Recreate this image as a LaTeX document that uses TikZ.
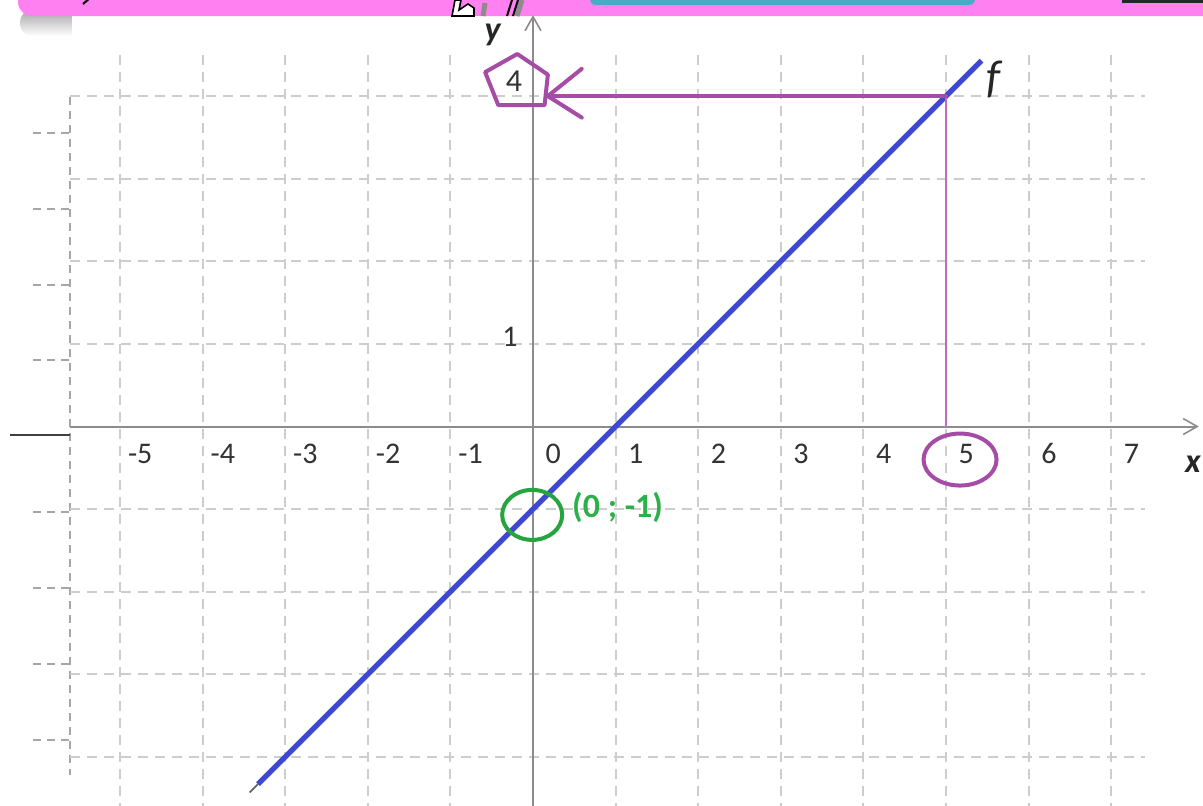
\documentclass[tikz,border=0pt]{standalone}
\usepackage{fontspec}
\setmainfont{Carlito}
\usetikzlibrary{arrows.meta,shapes.geometric}
\definecolor{gridgray}{RGB}{205,205,205}
\definecolor{edgegray}{RGB}{165,165,172}
\definecolor{axisgray}{RGB}{140,140,140}
\definecolor{fblue}{RGB}{62,72,208}
\definecolor{mypurple}{RGB}{166,76,166}
\definecolor{lightpurple}{RGB}{190,110,190}
\definecolor{mygreen}{RGB}{38,164,62}
\definecolor{textgreen}{RGB}{44,176,72}
\definecolor{barpink}{RGB}{255,128,240}
\definecolor{barteal}{RGB}{72,172,196}
\tikzset{
  px/.style={x=0.5pt,y=-0.5pt},
  gridline/.style={draw=gridgray,line width=1pt,dash pattern=on 5pt off 3.5pt},
  edgeline/.style={draw=edgegray,line width=1pt,dash pattern=on 4pt off 3pt},
  axisline/.style={draw=axisgray,line width=1pt},
  tick/.style={font=\fontsize{15}{17}\selectfont,text=black!80,inner sep=0pt},
  penmark/.style={draw=mypurple,line width=2pt,line cap=round,line join=round},
  greenmark/.style={draw=mygreen,line width=2pt},
}
\begin{document}
\begin{tikzpicture}[px]
\useasboundingbox (0,0) rectangle (1203,805);
\fill[white] (0,0) rectangle (1203,805);
% shadow of the top bar
\shade[top color=black!35,bottom color=white,rounded corners=6pt] (20,10) rectangle (90,36);
\fill[white] (72,15) rectangle (1203,805);
% top bar
\fill[barpink,rounded corners=7pt] (18,-20) rectangle (1220,16);
\fill[barteal,rounded corners=3pt] (590,-10) rectangle (975,5);
\fill[black!85] (1122,-2) rectangle (1210,2.5);
\draw[black,line width=1pt] (83,4) -- (90,-2);
\draw[black!45,line width=2.5pt] (483,16) -- (485,3);
\draw[black!45,line width=2.5pt] (517,16) -- (522,0);
\fill[white,draw=black,line width=0.8pt] (452,16) -- (455,0) -- (461,0) -- (459,10) -- (468,4) -- (474,8) -- (474,16) -- cycle;
\draw[black,line width=1pt] (507,16) -- (512,0);
\draw[black,line width=1pt] (513,16) -- (518,0);
% left edge ticks
\foreach \yy in {133,209,285,360,512,588,664,740}
  \draw[edgeline] (33,\yy) -- (70,\yy);
\draw[edgeline] (70,97) -- (70,775);
\draw[black!75,line width=1pt] (10,435) -- (70,435);
% math coordinate scope
\begin{scope}[shift={(533,426.5)},x=41.3pt,y=41.3pt]
  \foreach \k in {-5,...,7}
    \draw[gridline] (\k,4.5) -- (\k,-4.6);
  \foreach \k in {-4,-3,-2,-1,1,2,3,4}
    \draw[gridline] (-5.6,\k) -- (7.41,\k);
  \coordinate (xstart) at (-5.6,0);
  \coordinate (xend) at (8.06,0);
  \coordinate (ystart) at (0,-4.6);
  \coordinate (yend) at (0,4.98);
  \draw[axisline,-{Straight Barb[length=7pt,width=8pt,line width=0.8pt]}] (xstart) -- (xend);
  \draw[axisline,-{Straight Barb[length=7pt,width=8pt,line width=0.8pt]}] (ystart) -- (yend);
  % tick labels
  \foreach \k in {-5,...,7}
    \node[tick] (lx\k) at (\k+0.245,-0.33) {\k};
  \node[tick] (ly1) at (-0.28,1.08) {1};
  \node[font=\fontsize{17}{19}\selectfont\bfseries\itshape,text=black!85,inner sep=0pt] (ylab) at (-0.49,4.74) {y};
  \node[font=\fontsize{17}{19}\selectfont\bfseries\itshape,text=black!85,inner sep=0pt] (xlab) at (7.99,-0.46) {x};
  % function line
  \coordinate (fstart) at (-3.33,-4.33);
  \coordinate (fend) at (5.43,4.43);
  \coordinate (p54) at (5,4);
  \coordinate (p50) at (5,0);
  \draw[black!60,line width=0.8pt] (-3.43,-4.43) -- (fstart);
  \draw[fblue,line width=2.7pt] (fstart) -- (fend);
  \node[font=\fontsize{23}{25}\selectfont\itshape,text=black!85,inner sep=0pt] (flab) at (5.57,4.2) {f};
  % purple marks
  \draw[lightpurple,line width=0.8pt] (p54) -- (p50);
  \coordinate (arrowtip) at (0.18,4);
  \draw[penmark] (p54) -- (arrowtip);
  \draw[penmark] (0.59,4.33) -- (arrowtip) -- (0.59,3.74);
  \node[tick,font=\fontsize{16}{18}\selectfont] (four) at (-0.23,4.18) {4};
  \draw[penmark] (-0.19,4.51) -- (0.18,4.26) -- (0.14,3.89) -- (-0.42,3.89) -- (-0.58,4.29) -- cycle;
  \node[draw=mypurple,line width=2pt,ellipse,minimum width=36.5pt,minimum height=26pt,inner sep=0pt] (five) at (5.17,-0.4) {};
  % green marks
  \node[greenmark,ellipse,minimum width=30pt,minimum height=25pt,inner sep=0pt] (origmark) at (-0.01,-1.07) {};
  \node[font=\fontsize{17}{19}\selectfont\bfseries,text=textgreen,inner sep=0pt,anchor=west] (glab) at (0.47,-0.98) {(0 ; -1)};
\end{scope}
\end{tikzpicture}
\end{document}
